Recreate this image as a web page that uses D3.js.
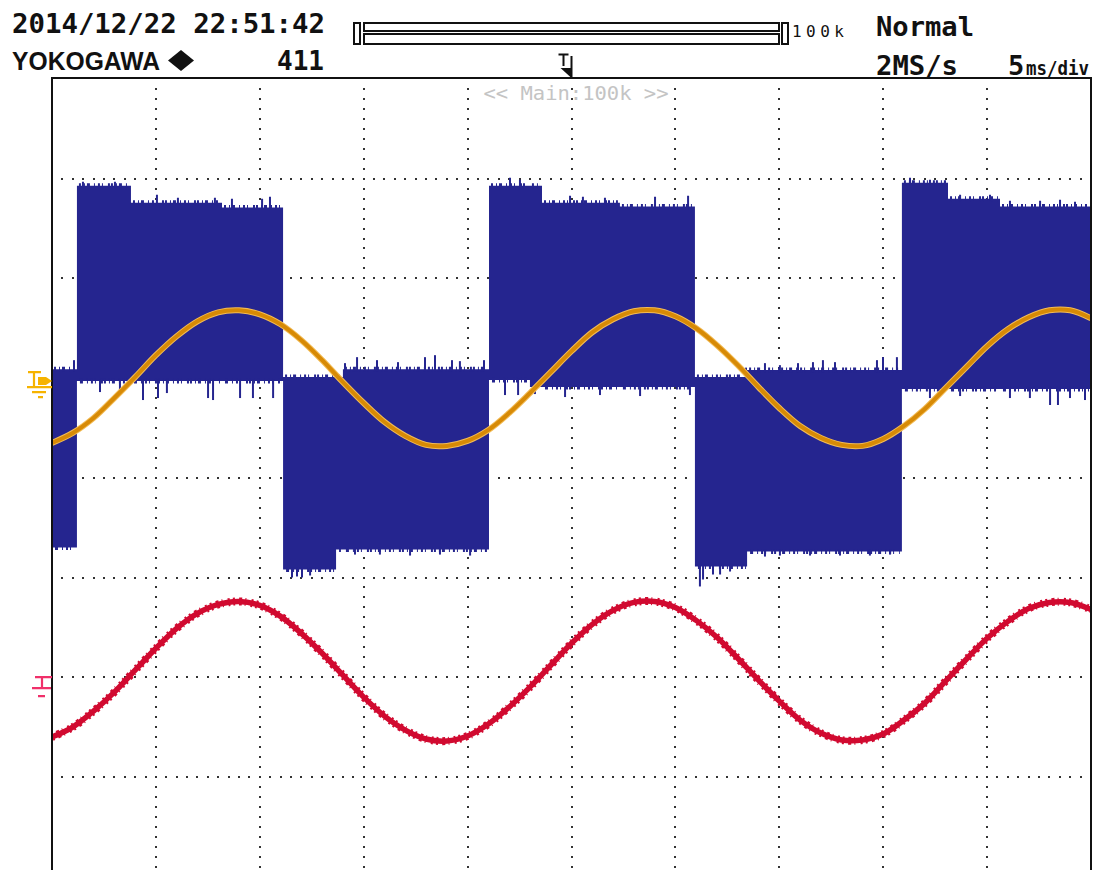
<!DOCTYPE html>
<html>
<head>
<meta charset="utf-8">
<script src="https://cdn.jsdelivr.net/npm/d3@7"></script>
<style>
  html, body { margin: 0; padding: 0; background: #fff; }
  svg { display: block; }
</style>
</head>
<body>
<svg id="scope" width="1097" height="870"></svg>
<script>
// ---- acquisition header ----
const headerDate = "2014/12/22 22:51:42";
const headerBrand = "YOKOGAWA";
const headerCount = "411";
const headerMode = "Normal";
const headerRate = "2MS/s";
const headerDivNum = "5";
const headerDivUnit = "ms/div";
const headerRecord = "100k";
const headerZoom = "<< Main:100k >>";

// ---- time base: 10 divisions x 5 ms ----
const timeDomainMs = [0, 50];
const timeGridMs = [5, 10, 15, 20, 25, 30, 35, 40, 45];
const triggerMs = 25;
// ---- vertical: 8 divisions ----
const divDomain = [-4, 4];
const divGrid = [-3, -2, -1, 0, 1, 2, 3];
const ch1ZeroDiv = 1.0;
const ch3ZeroDiv = -2.0;

// ---- CH2: inverter PWM output, drawn as its envelope (ms, div) ----
const blueUpperT = [0, 1.20, 3.80, 8.18, 11.12, 14.00, 21.03, 23.58, 27.33, 30.94, 33.35, 40.90, 43.12, 45.62];
const blueUpperV = [1.09, 2.93, 2.76, 2.71, 1.01, 1.09, 2.93, 2.76, 2.72, 1.01, 1.08, 2.96, 2.80, 2.72];
const blueLowerT = [0, 1.20, 11.12, 13.67, 21.03, 23.00, 30.94, 33.45, 40.90];
const blueLowerV = [-0.70, 0.97, -0.92, -0.72, 0.98, 0.91, -0.89, -0.74, 0.89];
// switching spikes above the upper edge and below the lower edge
const blueSpikeUpT = [1.06, 1.49, 3.03, 5.05, 6.06, 7.84, 8.66, 10.11, 10.49, 14.10, 14.68, 15.64, 16.65, 17.95, 18.43, 19.25, 19.63, 20.79,
  22.04, 22.52, 24.93, 25.55, 26.61, 29.02, 30.61, 34.31, 35.03, 35.90, 36.62, 37.10, 37.68, 39.70, 39.99, 40.66,
  41.29, 42.25, 43.70, 45.14, 46.10, 47.55, 48.51, 49.23];
const blueSpikeUpV = [1.18, 2.97, 2.97, 2.84, 2.81, 2.81, 2.80, 2.80, 2.82, 1.15, 1.21, 1.18, 1.16, 1.21, 1.23, 1.18, 1.17, 1.18,
  3.01, 2.99, 2.83, 2.82, 2.81, 2.82, 2.83, 1.15, 1.13, 1.15, 1.16, 1.18, 1.16, 1.18, 1.21, 1.21,
  3.01, 2.99, 2.84, 2.84, 2.78, 2.78, 2.79, 2.77];
const blueSpikeDownT = [2.31, 3.27, 4.38, 5.10, 5.53, 7.51, 7.75, 9.05, 9.67, 10.64, 11.55, 11.79, 12.03, 12.42, 14.58, 15.78, 17.23, 18.67, 20.12,
  21.80, 22.43, 23.24, 24.69, 26.37, 28.30, 30.70, 31.18, 31.33, 31.81, 32.15, 32.63, 34.31, 35.03, 36.48, 37.92, 39.36, 40.33,
  42.25, 43.70, 46.10, 47.06, 48.03, 48.41, 48.99, 49.71];
const blueSpikeDownV = [0.86, 0.88, 0.78, 0.80, 0.85, 0.80, 0.78, 0.80, 0.80, 0.80, -1.00, -0.99, -1.00, -0.98, -0.77, -0.77, -0.78, -0.77, -0.78,
  0.83, 0.83, 0.84, 0.81, 0.83, 0.82, 0.83, -1.09, -1.02, -0.97, -0.97, -0.94, -0.79, -0.78, -0.78, -0.78, -0.78, -0.77,
  0.80, 0.82, 0.80, 0.80, 0.73, 0.73, 0.80, 0.78];

// ---- CH1 (orange) and CH3 (red) traces, sampled every 1 ms (div) ----
const traceTimesMs = d3.range(0, 51, 1);
const ch1Values = [0.35, 0.45, 0.60, 0.80, 1.01, 1.23, 1.42, 1.57, 1.66, 1.68, 1.64, 1.54, 1.38, 1.18, 0.96, 0.75, 0.56, 0.42, 0.33, 0.32,
  0.37, 0.48, 0.65, 0.85, 1.06, 1.27, 1.46, 1.59, 1.67, 1.68, 1.62, 1.50, 1.33, 1.13, 0.91, 0.70, 0.52, 0.40, 0.33, 0.32,
  0.39, 0.52, 0.69, 0.90, 1.11, 1.32, 1.49, 1.61, 1.68, 1.68, 1.60];
const ch3Values = [-2.60, -2.50, -2.34, -2.15, -1.93, -1.71, -1.51, -1.36, -1.27, -1.24, -1.28, -1.39, -1.56, -1.76, -1.98, -2.20, -2.39, -2.53, -2.62, -2.64,
  -2.59, -2.47, -2.30, -2.10, -1.88, -1.66, -1.47, -1.33, -1.25, -1.24, -1.30, -1.43, -1.60, -1.81, -2.03, -2.24, -2.43, -2.56, -2.63, -2.63,
  -2.57, -2.43, -2.26, -2.04, -1.82, -1.61, -1.44, -1.31, -1.25, -1.25, -1.32];

// ---- colours ----
const colBlue = "#25258f";
const colOrange = "#d78a06";
const colOrangeHalo = "#f2bb55";
const colRed = "#d10a30";
const colCh1Mark = "#f6b300";
const colCh3Mark = "#f0306a";
const colGridDot = "#333";

// ---- layout ----
const plot = { left: 52, right: 1091, top: 79, bottom: 876.6 };

const svg = d3.select("#scope");
svg.append("rect").attr("width", 1097).attr("height", 870).attr("fill", "#fff");

const x = d3.scaleLinear().domain(timeDomainMs).range([plot.left, plot.right]);
const y = d3.scaleLinear().domain(divDomain).range([plot.bottom, plot.top]);

svg.append("defs").append("clipPath").attr("id", "plotClip")
  .append("rect").attr("x", plot.left).attr("y", plot.top)
  .attr("width", plot.right - plot.left).attr("height", plot.bottom - plot.top);

// ---- dotted graticule ----
const grid = svg.append("g").attr("fill", colGridDot).attr("clip-path", "url(#plotClip)");
const minorT = d3.range(timeDomainMs[0] + 0.5, timeDomainMs[1], 0.5);
const minorV = d3.range(-39, 40).map(k => k / 10);
divGrid.forEach(v => {
  grid.selectAll(null).data(minorT).join("rect")
    .attr("x", d => Math.round(x(d)) - 1).attr("y", Math.round(y(v)) - 1)
    .attr("width", 2).attr("height", 2);
});
timeGridMs.forEach(t => {
  grid.selectAll(null).data(minorV).join("rect")
    .attr("x", Math.round(x(t)) - 1).attr("y", d => Math.round(y(d)) - 1)
    .attr("width", 2).attr("height", 2);
});

// ---- CH2 PWM envelope ----
const stepAt = (T, V, t) => V[Math.max(0, d3.bisectRight(T, t) - 1)];
const bandTimes = Array.from(new Set([...blueUpperT, ...blueLowerT, timeDomainMs[1]])).sort((a, b) => a - b);
const band = bandTimes.map(t => ({ t, hi: stepAt(blueUpperT, blueUpperV, t), lo: stepAt(blueLowerT, blueLowerV, t) }));

const traces = svg.append("g").attr("clip-path", "url(#plotClip)");
traces.append("path")
  .datum(band)
  .attr("fill", colBlue)
  .attr("d", d3.area().x(d => x(d.t)).y0(d => y(d.lo)).y1(d => y(d.hi)).curve(d3.curveStepAfter));

// ragged switching fringe along the flat parts of both envelope edges
const flats = band.slice(0, -1).map((d, i) => ({ t0: d.t, t1: band[i + 1].t, hi: d.hi, lo: d.lo }));
const fringe = traces.append("g").attr("fill", "none").attr("stroke", colBlue)
  .attr("stroke-width", 5).attr("stroke-dasharray", "2,3,1,2,3,4,1,3,2,2,1,5,2,1");
fringe.selectAll(null).data(flats).join("line")
  .attr("x1", d => x(d.t0) + 2).attr("x2", d => x(d.t1) - 2)
  .attr("y1", d => y(d.hi)).attr("y2", d => y(d.hi));
fringe.selectAll(null).data(flats).join("line").attr("stroke-dashoffset", 7)
  .attr("x1", d => x(d.t0) + 2).attr("x2", d => x(d.t1) - 2)
  .attr("y1", d => y(d.lo)).attr("y2", d => y(d.lo));

const spikes = traces.append("g").attr("stroke", colBlue).attr("stroke-width", 2);
spikes.selectAll(null).data(blueSpikeUpT.map((t, i) => ({ t, v: blueSpikeUpV[i] }))).join("line")
  .attr("x1", d => x(d.t)).attr("x2", d => x(d.t))
  .attr("y1", d => y(stepAt(blueUpperT, blueUpperV, d.t)) + 2).attr("y2", d => y(d.v));
spikes.selectAll(null).data(blueSpikeDownT.map((t, i) => ({ t, v: blueSpikeDownV[i] }))).join("line")
  .attr("x1", d => x(d.t)).attr("x2", d => x(d.t))
  .attr("y1", d => y(stepAt(blueLowerT, blueLowerV, d.t)) - 2).attr("y2", d => y(d.v));

// ---- CH1 and CH3 sine traces ----
const traceLine = d3.line().x(d => x(d.t)).y(d => y(d.v)).curve(d3.curveCatmullRom.alpha(0.5));
const ch1 = traceTimesMs.map((t, i) => ({ t, v: ch1Values[i] }));
const ch3 = traceTimesMs.map((t, i) => ({ t, v: ch3Values[i] }));
traces.append("path").datum(ch1).attr("fill", "none").attr("stroke", colOrangeHalo)
  .attr("stroke-width", 6).attr("d", traceLine);
traces.append("path").datum(ch1).attr("fill", "none").attr("stroke", colOrange)
  .attr("stroke-width", 4).attr("d", traceLine);
traces.append("path").datum(ch3).attr("fill", "none").attr("stroke", colRed)
  .attr("stroke-width", 5.5).attr("stroke-linejoin", "round").attr("d", traceLine);
// sample noise on the red channel gives it a rough outline
traces.append("path").datum(ch3).attr("fill", "none").attr("stroke", colRed)
  .attr("stroke-width", 8).attr("stroke-dasharray", "2,4,3,3,1,5,2,3").attr("d", traceLine);

// ---- screen frame ----
svg.append("path")
  .attr("d", `M${plot.left},870 V${plot.top - 1} H${plot.right} V870`)
  .attr("fill", "none").attr("stroke", "#111").attr("stroke-width", 2);

// ---- channel zero markers ----
const y1z = y(ch1ZeroDiv);
const m1 = svg.append("g").attr("stroke", colCh1Mark).attr("stroke-width", 2.2).attr("fill", "none");
m1.append("path").attr("d", `M28,${y1z - 6} H41 M34,${y1z - 6} V${y1z + 8} M27,${y1z + 9} H52 M32,${y1z + 14} H46 M38,${y1z + 19} H43`);
m1.append("path").attr("fill", colCh1Mark).attr("stroke", "none")
  .attr("d", `M38,${y1z - 1} H46 L52,${y1z + 3} L46,${y1z + 7} H38 Z`);

const y3z = y(ch3ZeroDiv);
const m3 = svg.append("g").attr("stroke", colCh3Mark).attr("stroke-width", 2.2).attr("fill", "none");
m3.append("path").attr("d", `M35,${y3z} H52 M42,${y3z} V${y3z + 11} M32,${y3z + 11} H51 M38,${y3z + 19} H45`);

// ---- trigger position marker ----
const xt = x(triggerMs);
const trig = svg.append("g");
trig.append("path").attr("d", `M${xt - 13},54.5 H${xt - 3} M${xt - 8},54.5 V66 M${xt},56 V78`)
  .attr("stroke", "#111").attr("stroke-width", 2).attr("fill", "none");
trig.append("path").attr("d", `M${xt - 11},68 H${xt} V78 Z`).attr("fill", "#111");

// ---- header texts ----
const mono = "'DejaVu Sans Mono', 'Liberation Mono', monospace";
const hdr = svg.append("g").attr("fill", "#111");
hdr.append("text").attr("x", 12).attr("y", 33).attr("font-family", mono).attr("font-size", 27)
  .attr("font-weight", "bold")
  .attr("textLength", 313).attr("lengthAdjust", "spacingAndGlyphs").text(headerDate);
hdr.append("text").attr("x", 12).attr("y", 69.5).attr("font-family", "'Liberation Sans', Arial, sans-serif")
  .attr("font-weight", "bold").attr("font-size", 25)
  .attr("textLength", 148).attr("lengthAdjust", "spacingAndGlyphs").text(headerBrand);
hdr.append("path").attr("d", "M181,50 L194,60.5 L181,71 L168,60.5 Z");
hdr.append("text").attr("x", 277).attr("y", 70).attr("font-family", mono).attr("font-size", 27)
  .attr("font-weight", "bold")
  .attr("textLength", 47).attr("lengthAdjust", "spacingAndGlyphs").text(headerCount);
hdr.append("text").attr("x", 876).attr("y", 36).attr("font-family", mono).attr("font-size", 27)
  .attr("font-weight", "bold")
  .attr("textLength", 98).attr("lengthAdjust", "spacingAndGlyphs").text(headerMode);
hdr.append("text").attr("x", 876).attr("y", 75).attr("font-family", mono).attr("font-size", 27)
  .attr("font-weight", "bold")
  .attr("textLength", 82).attr("lengthAdjust", "spacingAndGlyphs").text(headerRate);
hdr.append("text").attr("x", 1008).attr("y", 75).attr("font-family", mono).attr("font-size", 27)
  .attr("font-weight", "bold").text(headerDivNum);
hdr.append("text").attr("x", 1026).attr("y", 75).attr("font-family", mono).attr("font-size", 20)
  .attr("font-weight", "bold")
  .attr("textLength", 63).attr("lengthAdjust", "spacingAndGlyphs").text(headerDivUnit);
hdr.append("text").attr("x", 792).attr("y", 37).attr("font-family", mono).attr("font-size", 16)
  .attr("textLength", 52).attr("lengthAdjust", "spacing").text(headerRecord);
svg.append("text").attr("x", 576).attr("y", 99.5).attr("text-anchor", "middle")
  .attr("font-family", mono).attr("font-size", 20).attr("fill", "#c4c4c4")
  .attr("textLength", 185).attr("lengthAdjust", "spacingAndGlyphs").text(headerZoom);

// record-length bar
const bar = svg.append("g").attr("fill", "none").attr("stroke", "#111").attr("stroke-width", 2);
bar.append("rect").attr("x", 354).attr("y", 23).attr("width", 6).attr("height", 21);
bar.append("rect").attr("x", 364).attr("y", 23).attr("width", 415).attr("height", 8);
bar.append("rect").attr("x", 364).attr("y", 34).attr("width", 415).attr("height", 10);
bar.append("rect").attr("x", 782).attr("y", 23).attr("width", 6).attr("height", 21);
</script>
</body>
</html>
